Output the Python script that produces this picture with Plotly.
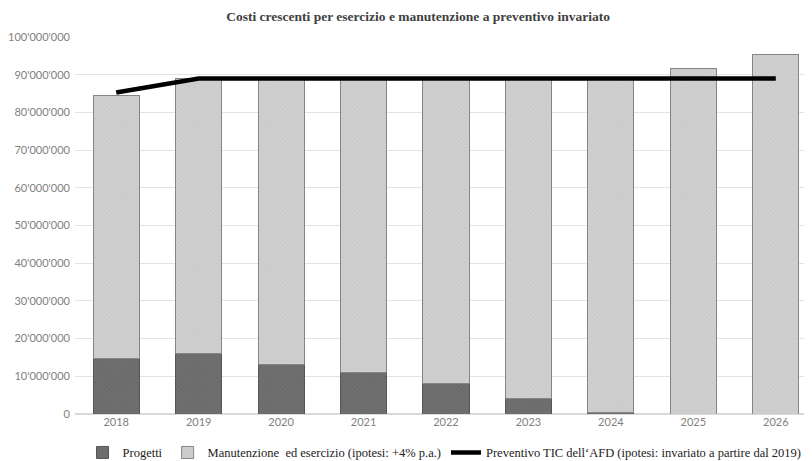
import plotly.graph_objects as go

years = ["2018", "2019", "2020", "2021", "2022", "2023", "2024", "2025", "2026"]
progetti = [14.8e6, 16.0e6, 13.0e6, 11.1e6, 8.1e6, 4.0e6, 0.5e6, 0, 0]
totale = [84.4e6, 89.0e6, 89.0e6, 89.0e6, 89.0e6, 89.0e6, 89.0e6, 91.6e6, 95.4e6]
manutenzione = [t - p for t, p in zip(totale, progetti)]
preventivo = [85.3e6, 89.0e6, 89.0e6, 89.0e6, 89.0e6, 89.0e6, 89.0e6, 89.0e6, 89.0e6]

title = "Costi crescenti per esercizio e manutenzione a preventivo invariato"
names = ["Progetti", "Manutenzione  ed esercizio (ipotesi: +4% p.a.)",
         "Preventivo TIC dell‘AFD (ipotesi: invariato a partire dal 2019)"]

fig = go.Figure()
fig.add_trace(go.Bar(
    x=years, y=progetti, name=names[0],
    marker=dict(color="#707070", line=dict(color="#555555", width=1),
                pattern=dict(shape="x", fgcolor="#555555", size=3, solidity=0.3)),
))
fig.add_trace(go.Bar(
    x=years, y=manutenzione, name=names[1],
    marker=dict(color="#d0d0d0", line=dict(color="#858585", width=1),
                pattern=dict(shape="x", fgcolor="#b8b8b8", size=3, solidity=0.3)),
))
fig.add_trace(go.Scatter(
    x=years, y=preventivo, name=names[2], mode="lines",
    line=dict(color="#000000", width=4.5),
))

fig.update_layout(
    width=812, height=461,
    barmode="stack", bargap=0.44,
    plot_bgcolor="white", paper_bgcolor="white",
    separators=".'",
    margin=dict(l=67, r=3, t=29, b=55, autoexpand=False),
    title=dict(text=title, x=0.505, xref="container", xanchor="center",
               y=1 - 8 / 461, yref="container", yanchor="middle",
               font=dict(family="Liberation Serif", size=13.5, color="#404040", weight="bold")),
    legend=dict(orientation="h", x=0.498, xref="paper", xanchor="center",
                y=-0.103, yref="paper", yanchor="middle",
                font=dict(family="Liberation Serif", size=12.5, color="#222222"),
                traceorder="normal", itemwidth=30),
    xaxis=dict(range=[-0.5, 8.5], showgrid=False, showline=False, ticks="",
               automargin=False,
               tickfont=dict(family="Lato", size=11, color="#808080")),
    yaxis=dict(range=[0, 100e6], dtick=10e6, tickformat=",d",
               showgrid=True, gridcolor="#e3e3e3", gridwidth=1,
               zeroline=True, zerolinecolor="#d9d9d9", showline=False, ticks="",
               ticklabelstandoff=4, automargin=False,
               tickfont=dict(family="Lato", size=11, color="#808080")),
)

fig.write_html("out.html")
